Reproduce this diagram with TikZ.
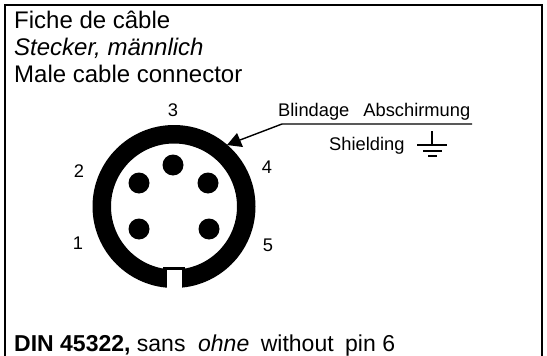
\documentclass[tikz,border=0pt]{standalone}
\usepackage{fontspec}
\setmainfont{Liberation Sans}
\begin{document}
\begin{tikzpicture}[x=1pt,y=-1pt,
  lab/.style={inner sep=0pt,anchor=base west,font=\fontsize{24}{26}\selectfont},
  din/.style={inner sep=0pt,anchor=base west,font=\fontsize{23}{26}\selectfont},
  small/.style={inner sep=0pt,anchor=base,font=\fontsize{18.3}{20}\selectfont},
  pin/.style={fill=black,circle,minimum size=21pt,inner sep=0pt},
  thin line/.style={line width=1.4pt}]
\useasboundingbox (0,0) rectangle (547,356);
\fill[white] (0,0) rectangle (547,356);
\draw[line width=2pt] (5,356) -- (5,5) -- (542,5) -- (542,356);
\node[lab] (t1) at (14,28) {Fiche de câble};
\node[lab] (t2) at (14,55) {\itshape Stecker, männlich};
\node[lab] (t3) at (14,82) {Male cable connector};
\node[din] (t4) at (14,351) {\textbf{DIN 45322,} sans\hspace{0.55em}\textit{ohne}\hspace{0.5em}without\hspace{0.5em}pin 6};
\coordinate (c) at (174,206.5);
\fill[black,even odd rule] (c) circle (81.5) (c) circle (63);
\fill[black] (163,267) rectangle (185,272);
\fill[white] (167,270) rectangle (182,292);
\node[pin] (p3) at (173,165) {};
\node[pin] (p2) at (139,183) {};
\node[pin] (p4) at (208,183) {};
\node[pin] (p1) at (139,229) {};
\node[pin] (p5) at (209,229) {};
\node[small] (n3) at (173,116) {3};
\node[small] (n2) at (79,177) {2};
\node[small] (n4) at (267,173) {4};
\node[small] (n1) at (78,249) {1};
\node[small] (n5) at (268,251) {5};
\node[small,anchor=base west] (b) at (278,116) {Blindage\hspace{14pt}Abschirmung};
\node[small,anchor=base west] (s) at (329,150) {Shielding};
\coordinate (r) at (472,124);
\coordinate (k) at (282,124);
\coordinate (tip) at (227,145);
\coordinate (headmid) at (240,140);
\draw[thin line] (r) -- (k) -- (headmid);
\fill[black] (tip) -- (237,133) -- (243,147) -- cycle;
\coordinate (g) at (432,131);
\draw[thin line] (g) -- ++(0,14);
\draw[thin line] (417,145) -- (447,145);
\draw[thin line] (423,151) -- (442,151);
\draw[line width=2pt] (428,156) -- (437,156);
\end{tikzpicture}
\end{document}
